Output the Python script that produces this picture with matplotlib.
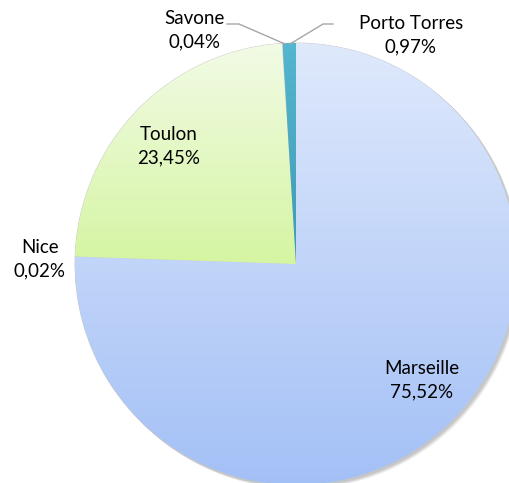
import matplotlib
matplotlib.use("Agg")
import matplotlib.pyplot as plt
import numpy as np
from matplotlib.colors import LinearSegmentedColormap

labels = ["Marseille", "Nice", "Toulon", "Savone", "Porto Torres"]
values = [75.52, 0.02, 23.45, 0.04, 0.97]
pct_text = ["75,52%", "0,02%", "23,45%", "0,04%", "0,97%"]

W, H = 509, 483
fig = plt.figure(figsize=(W / 100, H / 100), dpi=100)
ax = fig.add_axes([0, 0, 1, 1])

cx, cy, r = 296, H - 264, 221

# soft shadow
for i in range(4):
    sh = plt.Circle((cx + 1.5 + i * 0.7, cy - 1.5 - i * 0.7), r + 0.5, color="black",
                    alpha=0.06, lw=0, zorder=0)
    ax.add_patch(sh)

flat = ["#a9c4f5", "#c8f0a0", "#d8f5ad", "#4a7ebb", "#4bacc6"]
wedges, _ = ax.pie(values, startangle=90, counterclock=False, center=(cx, cy), radius=r,
                   colors=flat, wedgeprops=dict(edgecolor="#c8c8c8", linewidth=0.6),
                   frame=True)
ax.set_xlim(0, W)
ax.set_ylim(0, H)
ax.set_aspect("equal")
ax.axis("off")

grads = {0: ("#dfe9fc", "#a3c0f6"), 2: ("#f2fbe6", "#d5f5a2"), 4: ("#55b6cf", "#3e9ab5")}
for idx, (top, bot) in grads.items():
    w = wedges[idx]
    bb = w.get_path().get_extents(w.get_patch_transform())
    cmap = LinearSegmentedColormap.from_list("g%d" % idx, [bot, top])
    grad = np.linspace(0, 1, 256).reshape(-1, 1)
    im = ax.imshow(grad, cmap=cmap, origin="lower", aspect="auto",
                   extent=(bb.x0, bb.x1, bb.y0, bb.y1), zorder=w.get_zorder() + 0.1)
    im.set_clip_path(w)
ax.set_xlim(0, W)
ax.set_ylim(0, H)

fontkw = dict(family=["Lato", "DejaVu Sans"], fontsize=13.5, color="black", ha="center",
              va="center", linespacing=1.45, zorder=10)
label_pos = [(422, 380), (40, 259), (169, 146), (195, 30), (411, 35)]
for name, pt, (px, py) in zip(labels, pct_text, label_pos):
    ax.text(px, H - py, f"{name}\n{pt}", **fontkw)

lc = "#a6a6a6"
ax.plot([227, 239, 285], [H - 24, H - 24, H - 44], color=lc, lw=1.0, zorder=9)
ax.plot([333, 323, 290], [H - 24, H - 24, H - 44], color=lc, lw=1.0, zorder=9)

fig.savefig("out.png", dpi=100)
